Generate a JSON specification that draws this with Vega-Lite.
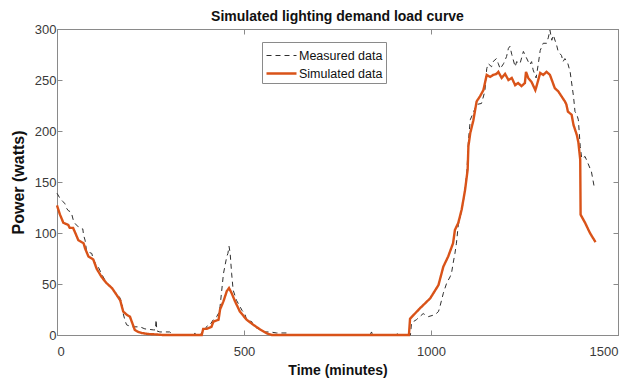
{
  "$schema": "https://vega.github.io/schema/vega-lite/v6.json",
  "width": 561,
  "height": 306,
  "autosize": {"type": "none"},
  "padding": {"left": 57, "top": 29, "right": 26, "bottom": 50},
  "background": "white",
  "title": {
    "text": "Simulated lighting demand load curve",
    "font": "Liberation Sans",
    "fontSize": 14,
    "fontWeight": "bold",
    "color": "#111111",
    "anchor": "middle",
    "offset": -1
  },
  "config": {
    "view": {"stroke": "#8a8a8a", "strokeWidth": 1},
    "font": "Liberation Sans",
    "axis": {
      "grid": false,
      "domainColor": "#8a8a8a",
      "tickColor": "#8a8a8a",
      "labelColor": "#3a3a3a",
      "labelFont": "Liberation Sans",
      "labelFontSize": 13,
      "titleFont": "Liberation Sans",
      "titleFontWeight": "bold",
      "titleColor": "#111111",
      "tickSize": -5,
      "format": "d"
    }
  },
  "datasets": {
    "rows": [
      {"t": 0, "p": 139, "s": "Measured data"}, {"t": 8, "p": 134, "s": "Measured data"}, {"t": 15, "p": 131, "s": "Measured data"}, {"t": 21, "p": 129, "s": "Measured data"}, {"t": 26, "p": 124, "s": "Measured data"}, {"t": 30, "p": 122, "s": "Measured data"}, {"t": 35, "p": 121, "s": "Measured data"}, {"t": 39, "p": 119, "s": "Measured data"}, {"t": 44, "p": 112, "s": "Measured data"}, {"t": 49, "p": 109, "s": "Measured data"}, {"t": 57, "p": 106, "s": "Measured data"}, {"t": 66, "p": 104, "s": "Measured data"}, {"t": 69, "p": 104, "s": "Measured data"}, {"t": 71, "p": 98, "s": "Measured data"}, {"t": 75, "p": 93, "s": "Measured data"}, {"t": 77, "p": 88, "s": "Measured data"}, {"t": 79, "p": 82, "s": "Measured data"}, {"t": 86, "p": 81, "s": "Measured data"}, {"t": 93, "p": 80, "s": "Measured data"}, {"t": 97, "p": 74, "s": "Measured data"}, {"t": 103, "p": 70, "s": "Measured data"}, {"t": 110, "p": 67, "s": "Measured data"}, {"t": 119, "p": 60, "s": "Measured data"}, {"t": 128, "p": 54, "s": "Measured data"}, {"t": 135, "p": 50, "s": "Measured data"}, {"t": 141, "p": 48, "s": "Measured data"}, {"t": 155, "p": 42, "s": "Measured data"}, {"t": 162, "p": 40, "s": "Measured data"}, {"t": 169, "p": 36, "s": "Measured data"}, {"t": 174, "p": 30, "s": "Measured data"}, {"t": 177, "p": 21, "s": "Measured data"}, {"t": 182, "p": 14, "s": "Measured data"}, {"t": 186, "p": 10, "s": "Measured data"}, {"t": 199, "p": 8, "s": "Measured data"}, {"t": 222, "p": 8, "s": "Measured data"}, {"t": 235, "p": 6, "s": "Measured data"}, {"t": 258, "p": 5, "s": "Measured data"}, {"t": 263, "p": 5, "s": "Measured data"}, {"t": 265, "p": 15, "s": "Measured data"}, {"t": 267, "p": 4, "s": "Measured data"}, {"t": 275, "p": 3, "s": "Measured data"}, {"t": 301, "p": 3, "s": "Measured data"}, {"t": 310, "p": 1, "s": "Measured data"}, {"t": 313, "p": 0, "s": "Measured data"}, {"t": 366, "p": 0, "s": "Measured data"}, {"t": 369, "p": 2, "s": "Measured data"}, {"t": 372, "p": 0, "s": "Measured data"}, {"t": 384, "p": 0, "s": "Measured data"}, {"t": 387, "p": 3, "s": "Measured data"}, {"t": 394, "p": 5, "s": "Measured data"}, {"t": 404, "p": 10, "s": "Measured data"}, {"t": 409, "p": 10, "s": "Measured data"}, {"t": 418, "p": 15, "s": "Measured data"}, {"t": 427, "p": 18, "s": "Measured data"}, {"t": 433, "p": 22, "s": "Measured data"}, {"t": 436, "p": 28, "s": "Measured data"}, {"t": 440, "p": 42, "s": "Measured data"}, {"t": 445, "p": 60, "s": "Measured data"}, {"t": 454, "p": 77, "s": "Measured data"}, {"t": 457, "p": 80, "s": "Measured data"}, {"t": 460, "p": 87, "s": "Measured data"}, {"t": 463, "p": 80, "s": "Measured data"}, {"t": 467, "p": 60, "s": "Measured data"}, {"t": 471, "p": 44, "s": "Measured data"}, {"t": 480, "p": 34, "s": "Measured data"}, {"t": 489, "p": 28, "s": "Measured data"}, {"t": 495, "p": 24, "s": "Measured data"}, {"t": 502, "p": 21, "s": "Measured data"}, {"t": 507, "p": 15, "s": "Measured data"}, {"t": 521, "p": 13, "s": "Measured data"}, {"t": 525, "p": 9, "s": "Measured data"}, {"t": 538, "p": 6, "s": "Measured data"}, {"t": 547, "p": 5, "s": "Measured data"}, {"t": 556, "p": 3, "s": "Measured data"}, {"t": 570, "p": 3, "s": "Measured data"}, {"t": 587, "p": 2, "s": "Measured data"}, {"t": 615, "p": 2, "s": "Measured data"}, {"t": 619, "p": 0, "s": "Measured data"}, {"t": 837, "p": 0, "s": "Measured data"}, {"t": 841, "p": 3, "s": "Measured data"}, {"t": 844, "p": 0, "s": "Measured data"}, {"t": 908, "p": 0, "s": "Measured data"}, {"t": 912, "p": 3, "s": "Measured data"}, {"t": 915, "p": 0, "s": "Measured data"}, {"t": 945, "p": 0, "s": "Measured data"}, {"t": 948, "p": 12, "s": "Measured data"}, {"t": 961, "p": 15, "s": "Measured data"}, {"t": 970, "p": 18, "s": "Measured data"}, {"t": 979, "p": 21, "s": "Measured data"}, {"t": 993, "p": 18, "s": "Measured data"}, {"t": 1011, "p": 20, "s": "Measured data"}, {"t": 1020, "p": 23, "s": "Measured data"}, {"t": 1024, "p": 28, "s": "Measured data"}, {"t": 1033, "p": 41, "s": "Measured data"}, {"t": 1042, "p": 51, "s": "Measured data"}, {"t": 1051, "p": 57, "s": "Measured data"}, {"t": 1055, "p": 61, "s": "Measured data"}, {"t": 1059, "p": 70, "s": "Measured data"}, {"t": 1064, "p": 80, "s": "Measured data"}, {"t": 1068, "p": 90, "s": "Measured data"}, {"t": 1073, "p": 108, "s": "Measured data"}, {"t": 1082, "p": 122, "s": "Measured data"}, {"t": 1087, "p": 132, "s": "Measured data"}, {"t": 1091, "p": 143, "s": "Measured data"}, {"t": 1096, "p": 160, "s": "Measured data"}, {"t": 1100, "p": 190, "s": "Measured data"}, {"t": 1105, "p": 211, "s": "Measured data"}, {"t": 1113, "p": 218, "s": "Measured data"}, {"t": 1122, "p": 226, "s": "Measured data"}, {"t": 1135, "p": 227, "s": "Measured data"}, {"t": 1144, "p": 239, "s": "Measured data"}, {"t": 1149, "p": 261, "s": "Measured data"}, {"t": 1153, "p": 266, "s": "Measured data"}, {"t": 1162, "p": 263, "s": "Measured data"}, {"t": 1166, "p": 268, "s": "Measured data"}, {"t": 1175, "p": 271, "s": "Measured data"}, {"t": 1180, "p": 266, "s": "Measured data"}, {"t": 1185, "p": 261, "s": "Measured data"}, {"t": 1194, "p": 266, "s": "Measured data"}, {"t": 1202, "p": 273, "s": "Measured data"}, {"t": 1207, "p": 281, "s": "Measured data"}, {"t": 1211, "p": 283, "s": "Measured data"}, {"t": 1216, "p": 275, "s": "Measured data"}, {"t": 1225, "p": 263, "s": "Measured data"}, {"t": 1229, "p": 268, "s": "Measured data"}, {"t": 1238, "p": 266, "s": "Measured data"}, {"t": 1247, "p": 278, "s": "Measured data"}, {"t": 1251, "p": 275, "s": "Measured data"}, {"t": 1260, "p": 268, "s": "Measured data"}, {"t": 1264, "p": 265, "s": "Measured data"}, {"t": 1269, "p": 268, "s": "Measured data"}, {"t": 1273, "p": 260, "s": "Measured data"}, {"t": 1281, "p": 252, "s": "Measured data"}, {"t": 1287, "p": 266, "s": "Measured data"}, {"t": 1292, "p": 279, "s": "Measured data"}, {"t": 1300, "p": 286, "s": "Measured data"}, {"t": 1309, "p": 286, "s": "Measured data"}, {"t": 1314, "p": 292, "s": "Measured data"}, {"t": 1318, "p": 299, "s": "Measured data"}, {"t": 1323, "p": 289, "s": "Measured data"}, {"t": 1327, "p": 294, "s": "Measured data"}, {"t": 1336, "p": 284, "s": "Measured data"}, {"t": 1340, "p": 278, "s": "Measured data"}, {"t": 1349, "p": 274, "s": "Measured data"}, {"t": 1353, "p": 268, "s": "Measured data"}, {"t": 1358, "p": 271, "s": "Measured data"}, {"t": 1366, "p": 266, "s": "Measured data"}, {"t": 1372, "p": 258, "s": "Measured data"}, {"t": 1381, "p": 234, "s": "Measured data"}, {"t": 1385, "p": 219, "s": "Measured data"}, {"t": 1390, "p": 216, "s": "Measured data"}, {"t": 1394, "p": 211, "s": "Measured data"}, {"t": 1399, "p": 185, "s": "Measured data"}, {"t": 1403, "p": 173, "s": "Measured data"}, {"t": 1412, "p": 175, "s": "Measured data"}, {"t": 1420, "p": 168, "s": "Measured data"}, {"t": 1429, "p": 160, "s": "Measured data"}, {"t": 1436, "p": 146, "s": "Measured data"}, {"t": 1440, "p": 143, "s": "Measured data"},
      {"t": 0, "p": 127, "s": "Simulated data"}, {"t": 8, "p": 118, "s": "Simulated data"}, {"t": 17, "p": 110, "s": "Simulated data"}, {"t": 30, "p": 108, "s": "Simulated data"}, {"t": 34, "p": 105, "s": "Simulated data"}, {"t": 43, "p": 105, "s": "Simulated data"}, {"t": 49, "p": 100, "s": "Simulated data"}, {"t": 57, "p": 93, "s": "Simulated data"}, {"t": 66, "p": 91, "s": "Simulated data"}, {"t": 71, "p": 90, "s": "Simulated data"}, {"t": 75, "p": 85, "s": "Simulated data"}, {"t": 84, "p": 77, "s": "Simulated data"}, {"t": 97, "p": 74, "s": "Simulated data"}, {"t": 106, "p": 65, "s": "Simulated data"}, {"t": 119, "p": 57, "s": "Simulated data"}, {"t": 132, "p": 51, "s": "Simulated data"}, {"t": 147, "p": 46, "s": "Simulated data"}, {"t": 160, "p": 39, "s": "Simulated data"}, {"t": 169, "p": 34, "s": "Simulated data"}, {"t": 177, "p": 23, "s": "Simulated data"}, {"t": 186, "p": 20, "s": "Simulated data"}, {"t": 195, "p": 18, "s": "Simulated data"}, {"t": 208, "p": 5, "s": "Simulated data"}, {"t": 217, "p": 3, "s": "Simulated data"}, {"t": 226, "p": 2, "s": "Simulated data"}, {"t": 243, "p": 1, "s": "Simulated data"}, {"t": 267, "p": 0.5, "s": "Simulated data"}, {"t": 283, "p": 0, "s": "Simulated data"}, {"t": 387, "p": 0, "s": "Simulated data"}, {"t": 391, "p": 6, "s": "Simulated data"}, {"t": 400, "p": 6, "s": "Simulated data"}, {"t": 413, "p": 8, "s": "Simulated data"}, {"t": 418, "p": 13, "s": "Simulated data"}, {"t": 432, "p": 15, "s": "Simulated data"}, {"t": 436, "p": 25, "s": "Simulated data"}, {"t": 445, "p": 33, "s": "Simulated data"}, {"t": 454, "p": 43, "s": "Simulated data"}, {"t": 460, "p": 46, "s": "Simulated data"}, {"t": 467, "p": 41, "s": "Simulated data"}, {"t": 476, "p": 33, "s": "Simulated data"}, {"t": 489, "p": 23, "s": "Simulated data"}, {"t": 507, "p": 15, "s": "Simulated data"}, {"t": 525, "p": 10, "s": "Simulated data"}, {"t": 543, "p": 5.5, "s": "Simulated data"}, {"t": 561, "p": 1.6, "s": "Simulated data"}, {"t": 574, "p": 0, "s": "Simulated data"}, {"t": 941, "p": 0, "s": "Simulated data"}, {"t": 944, "p": 16, "s": "Simulated data"}, {"t": 970, "p": 26, "s": "Simulated data"}, {"t": 998, "p": 36, "s": "Simulated data"}, {"t": 1020, "p": 49, "s": "Simulated data"}, {"t": 1033, "p": 67, "s": "Simulated data"}, {"t": 1046, "p": 77, "s": "Simulated data"}, {"t": 1059, "p": 90, "s": "Simulated data"}, {"t": 1064, "p": 103, "s": "Simulated data"}, {"t": 1073, "p": 110, "s": "Simulated data"}, {"t": 1082, "p": 123, "s": "Simulated data"}, {"t": 1091, "p": 142, "s": "Simulated data"}, {"t": 1098, "p": 162, "s": "Simulated data"}, {"t": 1100, "p": 185, "s": "Simulated data"}, {"t": 1105, "p": 198, "s": "Simulated data"}, {"t": 1113, "p": 210, "s": "Simulated data"}, {"t": 1122, "p": 229, "s": "Simulated data"}, {"t": 1131, "p": 234, "s": "Simulated data"}, {"t": 1140, "p": 240, "s": "Simulated data"}, {"t": 1149, "p": 255, "s": "Simulated data"}, {"t": 1158, "p": 253, "s": "Simulated data"}, {"t": 1166, "p": 255, "s": "Simulated data"}, {"t": 1175, "p": 256, "s": "Simulated data"}, {"t": 1180, "p": 258, "s": "Simulated data"}, {"t": 1189, "p": 252, "s": "Simulated data"}, {"t": 1198, "p": 256, "s": "Simulated data"}, {"t": 1207, "p": 250, "s": "Simulated data"}, {"t": 1216, "p": 252, "s": "Simulated data"}, {"t": 1225, "p": 245, "s": "Simulated data"}, {"t": 1233, "p": 247, "s": "Simulated data"}, {"t": 1242, "p": 244, "s": "Simulated data"}, {"t": 1251, "p": 247, "s": "Simulated data"}, {"t": 1254, "p": 258, "s": "Simulated data"}, {"t": 1260, "p": 252, "s": "Simulated data"}, {"t": 1269, "p": 248, "s": "Simulated data"}, {"t": 1279, "p": 240, "s": "Simulated data"}, {"t": 1283, "p": 245, "s": "Simulated data"}, {"t": 1292, "p": 257, "s": "Simulated data"}, {"t": 1300, "p": 255, "s": "Simulated data"}, {"t": 1309, "p": 258, "s": "Simulated data"}, {"t": 1318, "p": 255, "s": "Simulated data"}, {"t": 1323, "p": 250, "s": "Simulated data"}, {"t": 1331, "p": 242, "s": "Simulated data"}, {"t": 1340, "p": 239, "s": "Simulated data"}, {"t": 1349, "p": 234, "s": "Simulated data"}, {"t": 1358, "p": 229, "s": "Simulated data"}, {"t": 1362, "p": 226, "s": "Simulated data"}, {"t": 1366, "p": 219, "s": "Simulated data"}, {"t": 1376, "p": 216, "s": "Simulated data"}, {"t": 1381, "p": 206, "s": "Simulated data"}, {"t": 1390, "p": 196, "s": "Simulated data"}, {"t": 1394, "p": 189, "s": "Simulated data"}, {"t": 1399, "p": 172, "s": "Simulated data"}, {"t": 1400, "p": 118, "s": "Simulated data"}, {"t": 1412, "p": 110, "s": "Simulated data"}, {"t": 1425, "p": 100, "s": "Simulated data"}, {"t": 1440, "p": 91, "s": "Simulated data"}
    ]
  },
  "data": {"name": "rows"},
  "layer": [
    {
      "transform": [{"filter": "datum.s === 'Measured data'"}],
      "mark": {"type": "line", "interpolate": "linear"},
      "encoding": {
        "x": {
          "field": "t", "type": "quantitative",
          "scale": {"domain": [0, 1500], "nice": false},
          "axis": {"title": "Time (minutes)", "titleFontSize": 14, "values": [0, 500, 1000, 1500], "labelPadding": 15, "titlePadding": 5}
        },
        "y": {
          "field": "p", "type": "quantitative",
          "scale": {"domain": [0, 300], "nice": false},
          "axis": {"title": "Power (watts)", "titleFontSize": 16, "values": [0, 50, 100, 150, 200, 250, 300], "labelPadding": 6, "titlePadding": 8}
        },
        "color": {
          "field": "s", "type": "nominal",
          "scale": {"domain": ["Measured data", "Simulated data"], "range": ["#2e2e2e", "#D95319"]},
          "legend": {
            "title": null, "orient": "none", "legendX": 205, "legendY": 13,
            "symbolType": "M-1.5,0H1.5", "symbolSize": 400, "symbolOffset": 5,
            "labelFont": "Liberation Sans", "labelFontSize": 12.5, "labelColor": "#111111",
            "strokeColor": "#8a8a8a", "fillColor": "white", "padding": 3, "rowPadding": 0, "labelOffset": 6
          }
        },
        "strokeDash": {
          "field": "s", "type": "nominal",
          "scale": {"domain": ["Measured data", "Simulated data"], "range": [[5, 4], [1, 0]]},
          "legend": {"title": null}
        },
        "strokeWidth": {
          "field": "s", "type": "nominal",
          "scale": {"domain": ["Measured data", "Simulated data"], "range": [1, 2.4]},
          "legend": {"title": null}
        }
      }
    },
    {
      "transform": [{"filter": "datum.s === 'Simulated data'"}],
      "mark": {"type": "line", "interpolate": "linear"},
      "encoding": {
        "x": {
          "field": "t", "type": "quantitative",
          "axis": {"orient": "top", "title": null, "labels": false, "values": [0, 500, 1000, 1500]}
        },
        "y": {
          "field": "p", "type": "quantitative",
          "axis": {"orient": "right", "title": null, "labels": false, "values": [0, 50, 100, 150, 200, 250, 300]}
        },
        "color": {"field": "s", "type": "nominal"},
        "strokeDash": {"field": "s", "type": "nominal"},
        "strokeWidth": {"field": "s", "type": "nominal"}
      }
    }
  ],
  "resolve": {"axis": {"x": "independent", "y": "independent"}}
}
